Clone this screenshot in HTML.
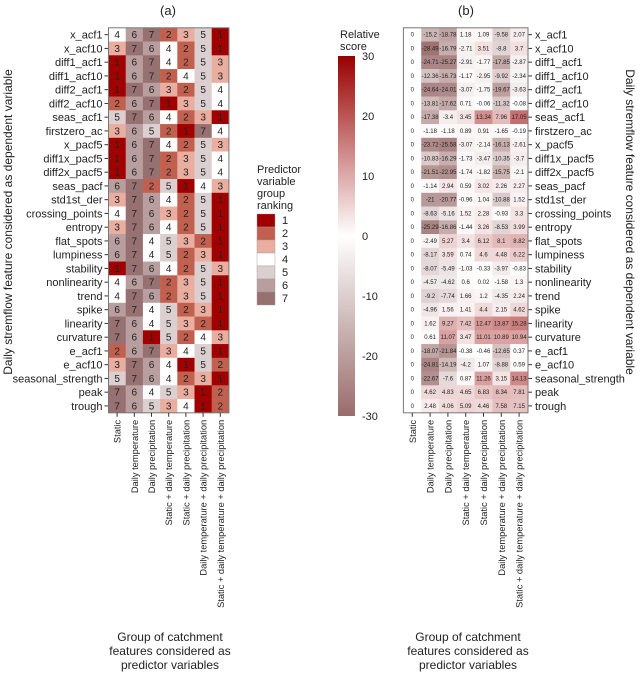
<!DOCTYPE html>
<html><head><meta charset="utf-8">
<style>
body{margin:0;background:#fff;width:640px;height:685px;overflow:hidden;font-family:"Liberation Sans",sans-serif;}
svg text{font-family:"Liberation Sans",sans-serif;fill:#222;}
</style></head><body>
<svg id="chart" width="640" height="685" xmlns="http://www.w3.org/2000/svg">
<defs>
<linearGradient id="cbg" x1="0" y1="0" x2="0" y2="1">
<stop offset="0" stop-color="#990000"/>
<stop offset="0.5" stop-color="#ffffff"/>
<stop offset="1" stop-color="#9a6c6c"/>
</linearGradient>
</defs>
<text x="168" y="15" font-size="13" text-anchor="middle">(a)</text>
<text x="466" y="15" font-size="13" text-anchor="middle">(b)</text>
<text transform="translate(12,222) rotate(-90)" font-size="12" text-anchor="middle">Daily stremflow feature considered as dependent variable</text>
<text transform="translate(626,222) rotate(90)" font-size="12" text-anchor="middle">Daily stremflow feature considered as dependent variable</text>
<g>
<text x="170" y="641" font-size="12" text-anchor="middle">Group of catchment</text>
<text x="170" y="655" font-size="12" text-anchor="middle">features considered as</text>
<text x="170" y="669" font-size="12" text-anchor="middle">predictor variables</text>
</g>
<g>
<text x="468" y="641" font-size="12" text-anchor="middle">Group of catchment</text>
<text x="468" y="655" font-size="12" text-anchor="middle">features considered as</text>
<text x="468" y="669" font-size="12" text-anchor="middle">predictor variables</text>
</g>
<g id="ga"></g><g id="gb"></g><g id="leg"></g>
<text x="340" y="38" font-size="11">Relative</text>
<text x="340" y="50" font-size="11">score</text>
<rect x="338" y="56" width="17" height="360" fill="url(#cbg)"/>
<g>
<text x="257" y="173" font-size="11">Predictor</text>
<text x="257" y="185" font-size="11">variable</text>
<text x="257" y="197" font-size="11">group</text>
<text x="257" y="209" font-size="11">ranking</text>
</g>
</svg>
<script>
const rows=["x_acf1","x_acf10","diff1_acf1","diff1_acf10","diff2_acf1","diff2_acf10","seas_acf1","firstzero_ac","x_pacf5","diff1x_pacf5","diff2x_pacf5","seas_pacf","std1st_der","crossing_points","entropy","flat_spots","lumpiness","stability","nonlinearity","trend","spike","linearity","curvature","e_acf1","e_acf10","seasonal_strength","peak","trough"];
const cols=["Static","Daily temperature","Daily precipitation","Static + daily temperature","Static + daily precipitation","Daily temperature + daily precipitation","Static + daily temperature + daily precipitation"];
const ranks=[[4,6,7,2,3,5,1],[3,7,6,4,2,5,1],[1,6,7,4,2,5,3],[1,6,7,2,4,5,3],[1,7,6,3,2,5,4],[2,6,7,1,3,5,4],[5,7,6,4,2,3,1],[3,6,5,2,1,7,4],[1,6,7,4,2,5,3],[1,6,7,2,3,5,4],[1,6,7,2,3,5,4],[6,7,2,5,1,4,3],[3,7,6,4,2,5,1],[4,7,6,3,2,5,1],[3,7,6,4,2,5,1],[6,7,4,5,3,2,1],[6,7,4,5,2,3,1],[1,7,6,4,2,5,3],[4,6,7,2,3,5,1],[4,7,6,2,3,5,1],[6,7,4,5,2,3,1],[7,6,4,5,3,2,1],[7,6,1,5,2,4,3],[2,6,7,3,4,5,1],[3,7,6,4,1,5,2],[5,7,6,4,2,3,1],[7,6,4,5,3,1,2],[7,6,5,3,4,1,2]];
const scores=[[0,-15.2,-18.78,1.18,1.09,-9.58,2.07],[0,-28.49,-16.79,-2.71,3.51,-8.8,3.7],[0,-24.71,-25.27,-2.91,-1.77,-17.85,-2.87],[0,-12.36,-16.73,-1.17,-2.95,-9.92,-2.34],[0,-24.64,-24.01,-3.07,-1.75,-19.67,-3.63],[0,-13.81,-17.62,0.71,-0.06,-11.32,-0.08],[0,-17.38,-3.4,3.45,13.34,7.96,17.05],[0,-1.18,-1.18,0.89,0.91,-1.65,-0.19],[0,-23.72,-25.58,-3.07,-2.14,-16.13,-2.61],[0,-10.83,-16.29,-1.73,-3.47,-10.35,-3.7],[0,-21.51,-22.95,-1.74,-1.82,-15.75,-2.1],[0,-1.14,2.94,0.59,3.02,2.26,2.27],[0,-21,-20.77,-0.96,1.04,-10.88,1.52],[0,-8.63,-5.16,1.52,2.28,-0.93,3.3],[0,-25.29,-16.86,-1.44,3.26,-8.53,3.99],[0,-2.49,5.27,3.4,6.12,8.1,8.82],[0,-8.17,3.59,0.74,4.6,4.48,6.22],[0,-8.07,-5.49,-1.03,-0.33,-3.97,-0.83],[0,-4.57,-4.62,0.6,0.02,-1.58,1.3],[0,-9.2,-7.74,1.66,1.2,-4.35,2.24],[0,-4.96,1.56,1.41,4.4,2.15,4.62],[0,1.62,9.27,7.42,12.47,13.87,15.28],[0,0.61,11.07,3.47,11.01,10.89,10.94],[0,-18.07,-21.84,-0.38,-0.46,-12.65,0.37],[0,-24.81,-14.19,-4.2,1.07,-8.88,0.59],[0,-22.67,-7.6,0.87,11.26,3.15,14.13],[0,4.62,4.83,4.65,6.83,8.34,7.81],[0,2.48,4.06,5.09,4.46,7.58,7.15]];
const rankLevels=[1,2,3,4,5,6,7];
const cbTicks=[30,20,10,0,-10,-20,-30];

const rankColors=["#a00000","#c2604f","#e9aea0","#ffffff","#dccfcf","#b89e9e","#977171"];
const NS="http://www.w3.org/2000/svg";
function mk(tag,attrs,parent){const e=document.createElementNS(NS,tag);for(const k in attrs)e.setAttribute(k,attrs[k]);parent.appendChild(e);return e;}
const rowH=13.75, topY=27.8;
const yOf=i=>topY+i*rowH;
function lerp(a,b,t){return a.map((v,i)=>Math.round(v+(b[i]-v)*t));}
function scoreColor(v){const t=Math.max(-1,Math.min(1,v/30));const c=t>=0?lerp([255,255,255],[153,0,0],t):lerp([255,255,255],[154,108,108],-t);return `rgb(${c[0]},${c[1]},${c[2]})`;}

function panel(g,x0,cw,isA){
  rows.forEach((r,i)=>{
    cols.forEach((c,j)=>{
      const rect=mk('rect',{x:x0+j*cw,y:yOf(i),width:cw+0.3,height:rowH+0.3,fill:isA?rankColors[ranks[i][j]-1]:scoreColor(scores[i][j])},g);
      
      
      const t=mk('text',{x:x0+j*cw+cw/2,y:yOf(i)+rowH/2+(isA?3.5:2),'font-size':isA?10:6,'text-anchor':'middle'},g);
      t.textContent=isA?ranks[i][j]:scores[i][j];
      
      
      if(isA&&ranks[i][j]<=2)t.setAttribute('fill','#5a1010');
      if(isA&&ranks[i][j]>=6)t.setAttribute('fill','#333');
    });
    const cy=yOf(i)+rowH/2;
    if(isA){
      mk('line',{x1:x0-4,x2:x0,y1:cy,y2:cy,stroke:'#333'},g);
      const t=mk('text',{x:x0-6,y:cy+4,'font-size':11,'text-anchor':'end'},g);t.textContent=r;
      
      
    }else{
      const xr=x0+cw*7;
      mk('line',{x1:xr,x2:xr+4,y1:cy,y2:cy,stroke:'#333'},g);
      const t=mk('text',{x:xr+7,y:cy+4,'font-size':11},g);t.textContent=r;
      
      
    }
  });
  const b=mk('rect',{x:x0,y:topY,width:cw*7,height:rowH*rows.length,fill:'none',stroke:'#777','stroke-width':1},g);
  
  
  const yb=topY+rowH*rows.length;
  cols.forEach((c,j)=>{
    const cx=x0+j*cw+cw/2;
    mk('line',{x1:cx,x2:cx,y1:yb,y2:yb+4,stroke:'#333'},g);
    const t=mk('text',{transform:`translate(${cx+3.5},${yb+7}) rotate(-90)`,'font-size':9.3,'text-anchor':'end'},g);
    t.textContent=c;
    
    
  });
}
panel(document.getElementById('ga'),108.5,17.2,true);
panel(document.getElementById('gb'),403.4,17.8,false);

const leg=document.getElementById('leg');
rankLevels.forEach((lv,k)=>{
  const r=mk('rect',{x:257,y:214+k*13,width:18,height:13,fill:rankColors[lv-1],stroke:'#999','stroke-width':0.4},leg);
  
  
  const t=mk('text',{x:282,y:224+k*13,'font-size':11},leg);t.textContent=lv;
  
  
});
const cbY=v=>236+(-v)*6;
cbTicks.forEach(v=>{
  mk('line',{x1:338,x2:341,y1:cbY(v),y2:cbY(v),stroke:'#fff','stroke-opacity':0.5},leg);
  mk('line',{x1:352,x2:355,y1:cbY(v),y2:cbY(v),stroke:'#fff','stroke-opacity':0.5},leg);
  const t=mk('text',{x:362,y:cbY(v)+4,'font-size':11},leg);t.textContent=v;
  
  
});
</script>
</body></html>
